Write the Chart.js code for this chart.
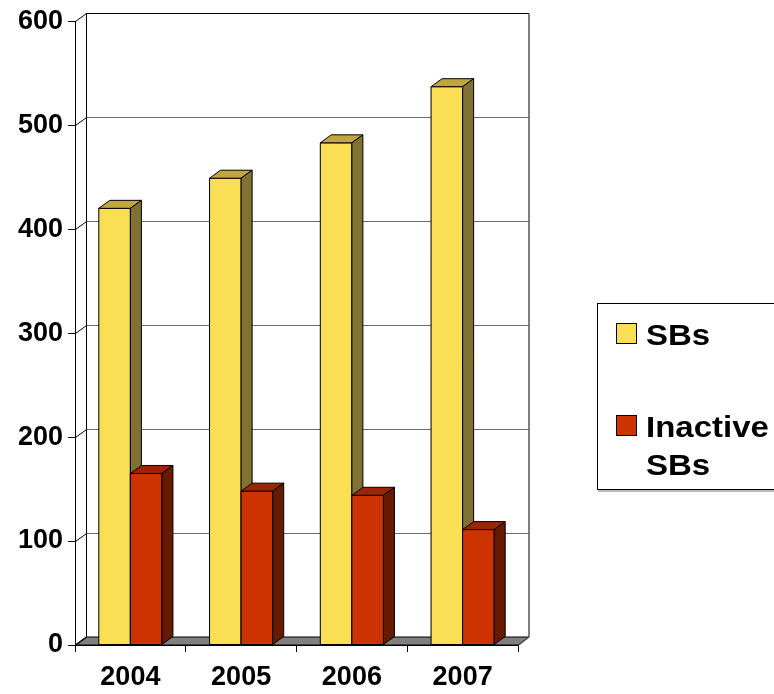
<!DOCTYPE html>
<html>
<head>
<meta charset="utf-8">
<script src="https://cdn.jsdelivr.net/npm/chart.js@4.4.0/dist/chart.umd.min.js"></script>
<style>
html,body{margin:0;padding:0;background:#fff;}
canvas{display:block;}
</style>
</head>
<body>
<canvas id="c" width="774" height="694"></canvas>
<script>
const categories = ["2004", "2005", "2006", "2007"];
const sbValues = [420, 449, 483, 537];
const inactiveValues = [165, 148, 144, 111];
const seriesNames = ["SBs", "Inactive SBs"];
const yTicks = [0, 100, 200, 300, 400, 500, 600];

const FONT = '"Liberation Sans", Arial, sans-serif';
const DX = 11, DY = -8;
const faceColors = [
  {front: '#FADF55', top: '#BFA73F', side: '#7F7232'},
  {front: '#CC3300', top: '#992600', side: '#661A00'}
];

const threeD = {
  id: 'threeD',
  beforeDatasetsDraw(chart) {
    const ctx = chart.ctx;
    const y = chart.scales.y, x = chart.scales.x;
    const L = x.left, R = x.right;
    ctx.save();
    const b = y.getPixelForValue(0);
    ctx.fillStyle = '#808080';
    ctx.beginPath();
    ctx.moveTo(L, b); ctx.lineTo(L + DX, b + DY); ctx.lineTo(R + DX, b + DY); ctx.lineTo(R, b);
    ctx.closePath(); ctx.fill();
    ctx.strokeStyle = '#000'; ctx.lineWidth = 1; ctx.stroke();
    yTicks.forEach(v => {
      const py = Math.round(y.getPixelForValue(v)) + 0.5;
      if (v > 0) {
        ctx.strokeStyle = v === 600 ? '#000' : '#6a6a6a';
        ctx.beginPath();
        ctx.moveTo(L + DX, py + DY); ctx.lineTo(R + DX, py + DY);
        ctx.stroke();
      }
      ctx.strokeStyle = '#000';
      ctx.beginPath();
      ctx.moveTo(L + 0.5, py); ctx.lineTo(L + DX + 0.5, py + DY);
      ctx.stroke();
    });
    const top = Math.round(y.getPixelForValue(600)) + 0.5 + DY;
    ctx.strokeStyle = '#000';
    ctx.beginPath();
    ctx.moveTo(L + DX + 0.5, top); ctx.lineTo(L + DX + 0.5, b + DY);
    ctx.stroke();
    ctx.strokeStyle = '#555';
    ctx.lineWidth = 1.5;
    ctx.beginPath();
    ctx.moveTo(R + DX, top); ctx.lineTo(R + DX, b + DY); ctx.lineTo(R, b + 0.5);
    ctx.stroke();
    ctx.restore();
  },
  afterDatasetsDraw(chart) {
    const ctx = chart.ctx;
    ctx.save();
    ctx.strokeStyle = '#000';
    ctx.lineWidth = 1;
    ctx.lineJoin = 'round';
    const n = chart.data.labels.length;
    for (let j = 0; j < n; j++) {
      chart.data.datasets.forEach((ds, i) => {
        const el = chart.getDatasetMeta(i).data[j];
        const col = faceColors[i];
        const p = el.getProps(['x', 'y', 'base', 'width'], true);
        const l = p.x - p.width / 2, r = p.x + p.width / 2, t = p.y, bs = p.base;
        ctx.fillStyle = col.front;
        ctx.fillRect(l, t, r - l, bs - t);
        ctx.strokeRect(l, t, r - l, bs - t);
        ctx.fillStyle = col.top;
        ctx.beginPath();
        ctx.moveTo(l, t); ctx.lineTo(l + DX, t + DY); ctx.lineTo(r + DX, t + DY); ctx.lineTo(r, t);
        ctx.closePath(); ctx.fill(); ctx.stroke();
        ctx.fillStyle = col.side;
        ctx.beginPath();
        ctx.moveTo(r, t); ctx.lineTo(r + DX, t + DY); ctx.lineTo(r + DX, bs + DY); ctx.lineTo(r, bs);
        ctx.closePath(); ctx.fill(); ctx.stroke();
      });
    }
    ctx.restore();
  },
  afterDraw(chart) {
    const ctx = chart.ctx;
    ctx.save();
    ctx.fillStyle = '#fff';
    ctx.strokeStyle = '#000';
    ctx.lineWidth = 1;
    ctx.fillRect(597.5, 303.5, 200, 186);
    ctx.strokeRect(597.5, 303.5, 200, 186);
    ctx.strokeStyle = '#777';
    ctx.beginPath(); ctx.moveTo(598, 491); ctx.lineTo(774, 491); ctx.stroke();
    ctx.font = 'bold 30px ' + FONT;
    ctx.textBaseline = 'alphabetic';
    const SX = 1.1;
    const items = [{sq: 323, base: 345}, {sq: 415, base: 437}];
    chart.data.datasets.forEach((ds, i) => {
      const it = items[i];
      ctx.fillStyle = faceColors[i].front;
      ctx.fillRect(616.5, it.sq + 0.5, 20, 20);
      ctx.strokeStyle = '#000';
      ctx.strokeRect(616.5, it.sq + 0.5, 20, 20);
      ctx.fillStyle = '#000';
      const words = ds.label.split(' ');
      const lines = [];
      let cur = '';
      words.forEach(w => {
        const test = cur ? cur + ' ' + w : w;
        if (ctx.measureText(test).width * SX > 126 && cur) { lines.push(cur); cur = w; }
        else cur = test;
      });
      if (cur) lines.push(cur);
      lines.forEach((ln, k) => {
        ctx.save();
        ctx.translate(646, it.base + k * 38);
        ctx.scale(SX, 1);
        ctx.fillText(ln, 0, 0);
        ctx.restore();
      });
    });
    ctx.restore();
  }
};

new Chart(document.getElementById('c'), {
  type: 'bar',
  data: {
    labels: categories,
    datasets: [
      {label: seriesNames[0], data: sbValues, backgroundColor: faceColors[0].front, borderColor: '#000', borderWidth: 1, clip: false},
      {label: seriesNames[1], data: inactiveValues, backgroundColor: faceColors[1].front, borderColor: '#000', borderWidth: 1, clip: false}
    ]
  },
  options: {
    responsive: false,
    animation: false,
    devicePixelRatio: 1,
    categoryPercentage: 0.57,
    barPercentage: 1,
    layout: {padding: {top: 21, right: 256, left: 0, bottom: 0}},
    plugins: {legend: {display: false}, tooltip: {enabled: false}},
    scales: {
      y: {
        min: 0, max: 600,
        afterFit(s) { s.width = 75; },
        ticks: {stepSize: 100, color: '#000', padding: 5, font: {family: FONT, size: 27, weight: 'bold'}},
        grid: {drawOnChartArea: false, tickLength: 7, color: '#000'},
        border: {color: '#000'}
      },
      x: {
        afterFit(s) { s.height = 49; },
        ticks: {color: '#000', padding: 9, font: {family: FONT, size: 27, weight: 'bold'}},
        grid: {drawOnChartArea: false, tickLength: 7, color: '#000', offset: true},
        border: {color: '#000'}
      }
    }
  },
  plugins: [threeD]
});
</script>
</body>
</html>
